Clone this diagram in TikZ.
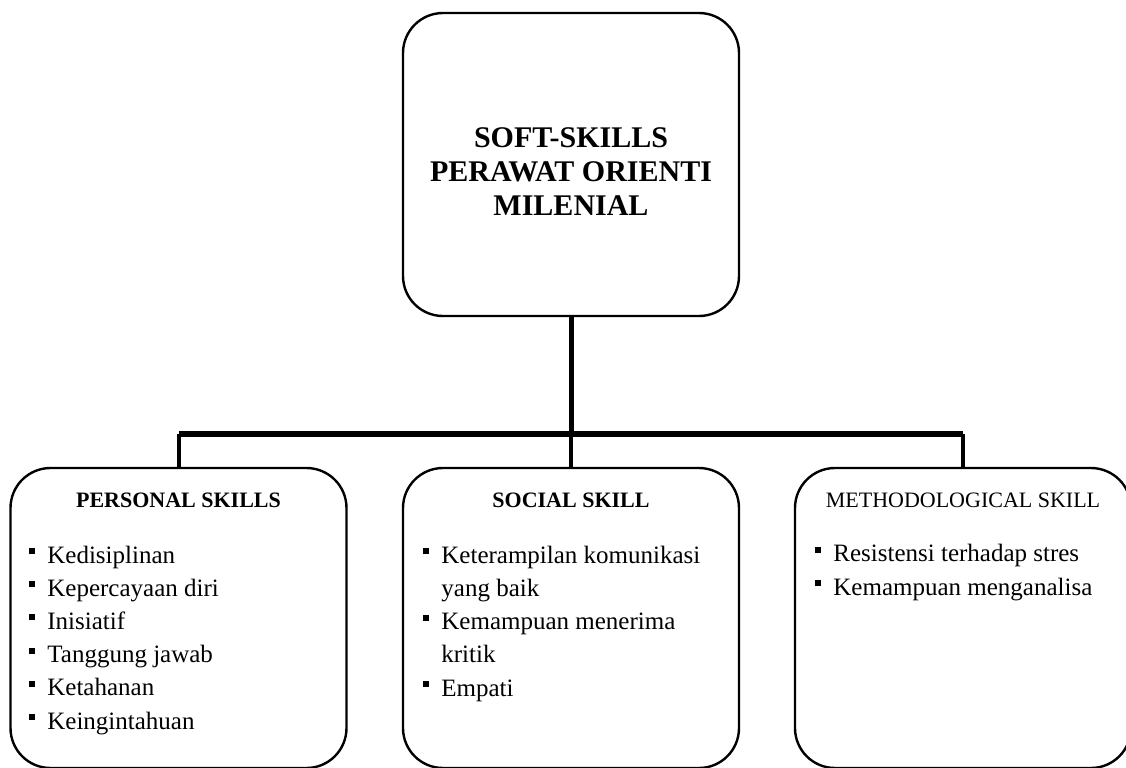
\documentclass[tikz,border=0pt]{standalone}
\usepackage{fontspec}
\setmainfont{Liberation Serif}
\usetikzlibrary{positioning}

\newcommand{\sqbullet}{\rule[4.5pt]{3pt}{3pt}\hspace{6pt}}
\newcommand{\sqindent}{\hspace*{9pt}}

\begin{document}
\begin{tikzpicture}[
  x=0.5pt, y=-0.5pt,
  skillbox/.style={draw, line width=1.2pt, rounded corners=20pt, minimum width=168pt,
                   minimum height=150pt, inner sep=0pt},
  headtxt/.style={anchor=base, inner sep=0pt, font=\bfseries\fontsize{11}{13}\selectfont},
  listtxt/.style={anchor=base west, inner sep=0pt, align=left, font=\fontsize{12.5}{16.6}\selectfont},
  trunk/.style={line width=2.5pt},
  drop/.style={line width=2pt},
]
  \useasboundingbox (0,0) rectangle (1126,767);
  \clip (0,0) rectangle (1126,767);

  % main box
  \node[skillbox, minimum height=151.5pt] (soft) at (571,164.5) {};
  \node[inner sep=0pt, align=center, font=\bfseries\fontsize{15}{17}\selectfont]
    (softtitle) at (571,172) {SOFT-SKILLS\\PERAWAT ORIENTI\\MILENIAL};

  % three groups
  \node[skillbox] (personal) at (178.5,618) {};
  \node[skillbox] (social)   at (571,618) {};
  \node[skillbox] (method)   at (963,618) {};

  \node[headtxt] (personalhead) at (178.5,507) {PERSONAL SKILLS};
  \node[headtxt] (socialhead)   at (571,507) {SOCIAL SKILL};
  \node[headtxt, font=\fontsize{11}{13}\selectfont] (methodhead) at (963,507) {METHODOLOGICAL SKILL};

  % lists (anchored at the last line)
  \node[listtxt] (personallist) at (29,729) {\sqbullet Kedisiplinan\\ \sqbullet Kepercayaan diri\\
    \sqbullet Inisiatif\\ \sqbullet Tanggung jawab\\ \sqbullet Ketahanan\\ \sqbullet Keingintahuan};
  \node[listtxt] (sociallist) at (423,696) {\sqbullet Keterampilan komunikasi\\ \sqindent yang baik\\
    \sqbullet Kemampuan menerima\\ \sqindent kritik\\ \sqbullet Empati};
  \node[listtxt] (methodlist) at (815,595) {\sqbullet Resistensi terhadap stres\\
    \sqbullet Kemampuan menganalisa};

  % connectors
  \coordinate (hub) at (571,434);
  \draw[trunk] (soft.south) -- (hub);
  \draw[trunk, line width=3pt] (personal.north |- hub) -- (method.north |- hub);
  \draw[drop] (personal.north |- hub) -- (personal.north);
  \draw[drop] (hub) -- (social.north);
  \draw[drop] (method.north |- hub) -- (method.north);
\end{tikzpicture}
\end{document}
